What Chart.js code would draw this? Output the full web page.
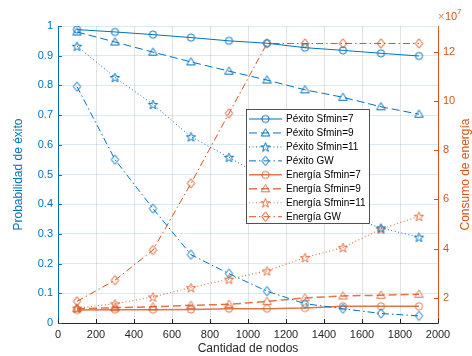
<!DOCTYPE html>
<html>
<head>
<meta charset="utf-8">
<script src="https://cdn.jsdelivr.net/npm/chart.js@4.4.0/dist/chart.umd.min.js"></script>
<style>
  body { margin: 0; background: #fff; }
  canvas { display: block; }
</style>
</head>
<body>
<canvas id="grafica" width="472" height="356"></canvas>
<script>
// datos
const nodos = [100, 300, 500, 700, 900, 1100, 1300, 1500, 1700, 1900];
const pexito7 = [0.988, 0.980, 0.971, 0.961, 0.950, 0.942, 0.927, 0.918, 0.908, 0.899];
const pexito9 = [0.980, 0.946, 0.912, 0.879, 0.848, 0.818, 0.785, 0.760, 0.728, 0.703];
const pexito11 = [0.932, 0.827, 0.736, 0.627, 0.558, 0.483, 0.418, 0.365, 0.320, 0.289];
const pexitoGW = [0.796, 0.550, 0.385, 0.230, 0.166, 0.107, 0.065, 0.048, 0.032, 0.024];
// energia en unidades de 10^7
const energia7 = [1.50, 1.51, 1.51, 1.52, 1.55, 1.55, 1.58, 1.65, 1.65, 1.65];
const energia9 = [1.55, 1.59, 1.63, 1.69, 1.73, 1.85, 1.99, 2.07, 2.10, 2.14];
const energia11 = [1.58, 1.75, 2.03, 2.41, 2.75, 3.09, 3.63, 4.04, 4.79, 5.31];
const energiaGW = [1.85, 2.71, 3.94, 6.65, 9.50, 12.34, 12.34, 12.34, 12.34, 12.34];
const ticksX = [0, 200, 400, 600, 800, 1000, 1200, 1400, 1600, 1800, 2000];
const ticksEnergia = [2, 4, 6, 8, 10, 12];

const azul = '#0072BD';
const naranja = '#D95319';
const fuente = '"Liberation Sans", Arial, sans-serif';

// marcadores estilo matlab (huecos)
function marcador(forma, color) {
  const c = document.createElement('canvas');
  c.width = 13; c.height = 13;
  const g = c.getContext('2d');
  const m = 6.5;
  g.strokeStyle = color;
  g.lineWidth = 1;
  g.beginPath();
  if (forma === 'circulo') {
    g.arc(m, m, 3.6, 0, Math.PI * 2);
  } else if (forma === 'triangulo') {
    g.moveTo(m, m - 4.3);
    g.lineTo(m + 4.3, m + 3);
    g.lineTo(m - 4.3, m + 3);
    g.closePath();
  } else if (forma === 'rombo') {
    g.moveTo(m, m - 4.7);
    g.lineTo(m + 3.7, m);
    g.lineTo(m, m + 4.7);
    g.lineTo(m - 3.7, m);
    g.closePath();
  } else {
    for (let k = 0; k < 10; k++) {
      const r = k % 2 ? 2 : 4.9;
      const a = -Math.PI / 2 + k * Math.PI / 5;
      const px = m + r * Math.cos(a), py = m + 0.5 + r * Math.sin(a);
      if (k === 0) g.moveTo(px, py); else g.lineTo(px, py);
    }
    g.closePath();
  }
  g.stroke();
  return c;
}

function serie(label, valores, eje, color, forma, dash, ancho) {
  return {
    label: label,
    data: nodos.map((x, i) => ({ x: x, y: valores[i] })),
    yAxisID: eje,
    borderColor: color,
    borderWidth: ancho,
    borderDash: dash,
    pointStyle: marcador(forma, color),
    pointRadius: 5,
    fill: false,
    tension: 0
  };
}

const naranjaClaro = 'rgba(217,83,25,0.8)';
const datasets = [
  serie('Péxito Sfmin=7', pexito7, 'y', azul, 'circulo', [], 1),
  serie('Péxito Sfmin=9', pexito9, 'y', azul, 'triangulo', [8, 4], 1),
  serie('Péxito Sfmin=11', pexito11, 'y', azul, 'estrella', [1, 2.5], 1),
  serie('Péxito GW', pexitoGW, 'y', azul, 'rombo', [7, 3, 1.5, 3], 1),
  serie('Energía Sfmin=7', energia7, 'y2', naranjaClaro, 'circulo', [], 1.5),
  serie('Energía Sfmin=9', energia9, 'y2', naranjaClaro, 'triangulo', [8, 4], 1.5),
  serie('Energía Sfmin=11', energia11, 'y2', naranjaClaro, 'estrella', [1, 2.5], 1.2),
  serie('Energía GW', energiaGW, 'y2', naranja, 'rombo', [7, 3, 1.5, 3], 1)
];

// leyenda dentro del area, ticks hacia dentro, titulo derecho y exponente
const extras = {
  id: 'extras',
  afterDatasetsDraw(chart) {
    const ctx = chart.ctx;
    const a = chart.chartArea;
    const sx = chart.scales.x, sy = chart.scales.y, sy2 = chart.scales.y2;
    ctx.save();
    ctx.lineWidth = 1;
    // ticks interiores
    ctx.strokeStyle = azul;
    sy.ticks.forEach(t => {
      const py = Math.round(sy.getPixelForValue(t.value)) + 0.5;
      ctx.beginPath(); ctx.moveTo(a.left, py); ctx.lineTo(a.left + 4, py); ctx.stroke();
    });
    ctx.strokeStyle = naranja;
    sy2.ticks.forEach(t => {
      const py = Math.round(sy2.getPixelForValue(t.value)) + 0.5;
      ctx.beginPath(); ctx.moveTo(a.right - 4, py); ctx.lineTo(a.right, py); ctx.stroke();
    });
    ctx.strokeStyle = '#262626';
    sx.ticks.forEach(t => {
      const px = Math.round(sx.getPixelForValue(t.value)) + 0.5;
      ctx.beginPath(); ctx.moveTo(px, a.bottom); ctx.lineTo(px, a.bottom - 4); ctx.stroke();
    });

    // leyenda
    const lx = 246, ly = 109, lw = 123, lh = 114;
    ctx.fillStyle = '#fff';
    ctx.fillRect(lx, ly, lw, lh);
    ctx.strokeStyle = '#262626';
    ctx.lineWidth = 0.8;
    ctx.strokeRect(lx + 0.5, ly + 0.5, lw, lh);
    ctx.font = '10px ' + fuente;
    ctx.textBaseline = 'middle';
    ctx.textAlign = 'left';
    chart.data.datasets.forEach((ds, i) => {
      const y = 119 + i * 13.96;
      ctx.strokeStyle = ds.borderColor;
      ctx.lineWidth = ds.borderWidth;
      ctx.setLineDash(ds.borderDash);
      ctx.beginPath(); ctx.moveTo(249, y); ctx.lineTo(282, y); ctx.stroke();
      ctx.setLineDash([]);
      const img = ds.pointStyle;
      ctx.drawImage(img, 265.5 - img.width / 2, y - img.height / 2);
      ctx.fillStyle = '#000';
      ctx.fillText(ds.label, 286, y + 0.5);
    });

    // titulo eje derecho
    ctx.fillStyle = naranja;
    ctx.font = '12px ' + fuente;
    ctx.textAlign = 'center';
    ctx.translate(466, (a.top + a.bottom) / 2);
    ctx.rotate(-Math.PI / 2);
    ctx.fillText('Consumo de energía', 0, 0);
    ctx.restore();

    ctx.save();
    ctx.fillStyle = naranja;
    ctx.textBaseline = 'middle';
    ctx.textAlign = 'left';
    ctx.font = '11px ' + fuente;
    ctx.globalAlpha = 0.75;
    ctx.fillText('×', 438, 17);
    ctx.globalAlpha = 1;
    ctx.fillText('10', 445, 17);
    ctx.font = '8px ' + fuente;
    ctx.fillText('7', 457, 12);
    ctx.restore();
  }
};

new Chart(document.getElementById('grafica'), {
  type: 'line',
  data: { datasets: datasets },
  options: {
    responsive: false,
    animation: false,
    layout: { padding: { top: 26 } },
    plugins: { legend: { display: false }, tooltip: { enabled: false } },
    scales: {
      x: {
        type: 'linear',
        min: 0, max: 2000,
        afterBuildTicks: s => { s.ticks = ticksX.map(v => ({ value: v })); },
        afterFit: s => { s.height = 33; },
        grid: { color: 'rgba(38,38,38,0.13)', drawTicks: false },
        border: { color: '#262626', width: 1 },
        ticks: { color: '#262626', padding: 5, font: { family: fuente, size: 11 }, maxRotation: 0, callback: v => String(v) },
        title: { display: true, text: 'Cantidad de nodos', color: '#262626', font: { family: fuente, size: 12 }, padding: { top: 0, bottom: 0 } }
      },
      y: {
        position: 'left',
        min: 0, max: 1,
        ticks: { stepSize: 0.1, color: azul, padding: 5, font: { family: fuente, size: 11 }, callback: v => String(+v.toFixed(1)) },
        afterFit: s => { s.width = 58; },
        grid: { color: 'rgba(0,114,189,0.15)', drawTicks: false },
        border: { color: azul, width: 1 },
        title: { display: true, text: 'Probabilidad de éxito', color: azul, font: { family: fuente, size: 12 }, padding: { top: 11, bottom: 0 } }
      },
      y2: {
        position: 'right',
        min: 0.97, max: 13.05,
        afterBuildTicks: s => { s.ticks = ticksEnergia.map(v => ({ value: v })); },
        afterFit: s => { s.width = 34; },
        grid: { drawOnChartArea: false, drawTicks: false },
        border: { color: naranja, width: 1 },
        ticks: { color: naranja, padding: 5, font: { family: fuente, size: 11 }, callback: v => String(v) }
      }
    }
  },
  plugins: [extras]
});
</script>
</body>
</html>
